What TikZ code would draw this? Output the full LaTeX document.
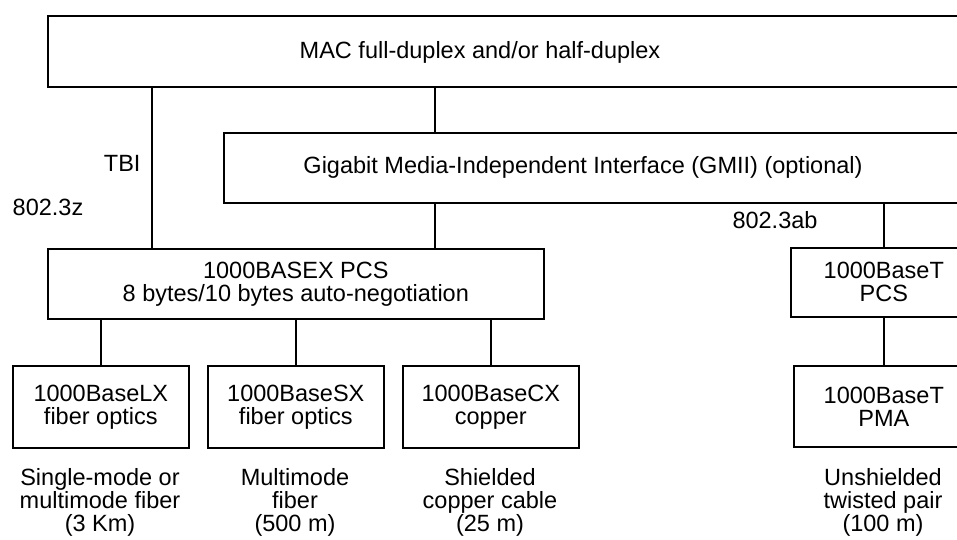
\documentclass[tikz,border=0pt]{standalone}
\usepackage{fontspec}
\setmainfont{Liberation Sans}
\usetikzlibrary{positioning}

\begin{document}
\begin{tikzpicture}[
        x=1pt, y=-1pt,
        every node/.style={font=\fontsize{23.5}{23}\selectfont},
        box/.style={draw, line width=1.6pt, minimum height=70pt,
                    align=center, inner sep=0pt},
        wire/.style={line width=1.6pt}
    ]
        \useasboundingbox (0,0) rectangle (957,539);
        \clip (0,0) rectangle (957,539);

        % Top layers (run past the right edge)
        \node[box, minimum width=960pt, minimum height=71pt, anchor=north west] (mac) at (47,15) {};
        \node (mactext) at (480,52) {MAC full-duplex and/or half-duplex};
        \node[box, minimum width=780pt, anchor=north west] (gmii) at (223,132) {};
        \node (gmiitext) at (583,167) {Gigabit Media-Independent Interface (GMII) (optional)};

        % PCS layer
        \node[box, minimum width=496pt, anchor=north west] (pcs) at (47,248)
            {1000BASEX PCS\\8 bytes/10 bytes auto-negotiation};
        \node[box, minimum width=186pt, minimum height=69pt, anchor=north west] (tpcs) at (790,247)
            {1000BaseT\\PCS};

        % Media boxes
        \node[box, minimum width=176pt, minimum height=82pt, anchor=north west] (lx) at (12,365) {1000BaseLX\\fiber optics};
        \node[box, minimum width=176pt, minimum height=82pt, anchor=north west] (sx) at (207,365) {1000BaseSX\\fiber optics};
        \node[box, minimum width=176pt, minimum height=82pt, anchor=north west] (cx) at (402,365) {1000BaseCX\\copper};
        \node[box, minimum width=180pt, minimum height=81pt, anchor=north west] (tpma) at (793,365) {1000BaseT\\PMA};

        % Cable captions
        \node[align=center] (lxcap) at (100,502) {Single-mode or\\multimode fiber\\(3 Km)};
        \node[align=center] (sxcap) at (295,502) {Multimode\\fiber\\(500 m)};
        \node[align=center] (cxcap) at (490,502) {Shielded\\copper cable\\(25 m)};
        \node[align=center] (tcap) at (883,502) {Unshielded\\twisted pair\\(100 m)};

        % Standard labels
        \coordinate (tbi) at (152,0);
        \coordinate (gx) at (435,0);
        \node[anchor=east] (tbilabel) at (144,163) {TBI};
        \node (zlabel) at (48,207) {802.3z};
        \node (ablabel) at (775,220) {802.3ab};

        % Connections
        \draw[wire] (mac.south -| tbi) -- (pcs.north -| tbi);
        \draw[wire] (mac.south -| gx) -- (gmii.north -| gx);
        \draw[wire] (gmii.south -| gx) -- (pcs.north -| gx);
        \draw[wire] (gmii.south -| tpcs) -- (tpcs.north);
        \draw[wire] (tpcs) -- (tpma);
        \draw[wire] (pcs.south -| lx) -- (lx.north);
        \draw[wire] (pcs.south -| sx) -- (sx.north);
        \draw[wire] (pcs.south -| cx) -- (cx.north);
    \end{tikzpicture}
\end{document}
